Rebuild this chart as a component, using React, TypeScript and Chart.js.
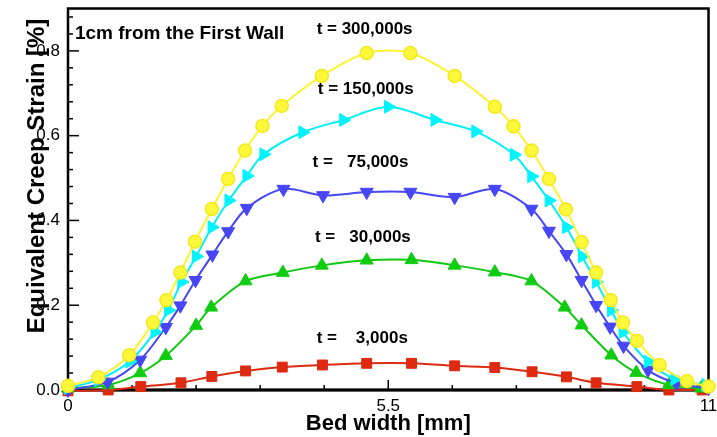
import { useEffect, useRef } from 'react';
import { Chart, registerables } from 'chart.js';

Chart.register(...registerables);

// ---- data ----
const x300k = [0, 0.52, 1.05, 1.46, 1.69, 1.93, 2.18, 2.47, 2.75, 3.04, 3.34, 3.67, 4.36, 5.13, 5.88, 6.64, 7.33, 7.65, 7.96, 8.26, 8.55, 8.82, 9.07, 9.32, 9.53, 9.77, 10.16, 10.63, 11];
const y300k = [0.01, 0.03, 0.082, 0.159, 0.212, 0.277, 0.35, 0.427, 0.498, 0.565, 0.623, 0.67, 0.741, 0.795, 0.795, 0.741, 0.668, 0.622, 0.565, 0.498, 0.426, 0.349, 0.277, 0.212, 0.159, 0.116, 0.059, 0.021, 0.008];

const x150k = [0, 0.52, 1.06, 1.49, 1.72, 1.95, 2.2, 2.47, 2.76, 3.07, 3.36, 4.03, 4.73, 5.5, 6.3, 7.0, 7.66, 7.96, 8.26, 8.56, 8.83, 9.07, 9.33, 9.53, 9.96, 10.42, 10.95];
const y150k = [0.005, 0.024, 0.067, 0.137, 0.188, 0.255, 0.315, 0.384, 0.447, 0.505, 0.556, 0.608, 0.637, 0.668, 0.637, 0.61, 0.555, 0.504, 0.447, 0.384, 0.315, 0.255, 0.188, 0.137, 0.067, 0.026, 0.012];

const x75k = [0, 0.68, 1.24, 1.68, 1.93, 2.19, 2.48, 2.75, 3.07, 3.7, 4.38, 5.13, 5.88, 6.64, 7.33, 7.96, 8.26, 8.56, 8.82, 9.07, 9.31, 9.54, 9.96, 10.45, 11];
const y75k = [0.0, 0.019, 0.071, 0.148, 0.199, 0.259, 0.319, 0.374, 0.429, 0.474, 0.459, 0.467, 0.467, 0.455, 0.474, 0.427, 0.375, 0.32, 0.259, 0.2, 0.149, 0.104, 0.047, 0.016, 0.004];

const x30k = [0, 0.69, 1.24, 1.68, 2.2, 2.46, 3.05, 3.69, 4.36, 5.13, 5.9, 6.64, 7.33, 7.96, 8.53, 8.82, 9.33, 9.76, 10.32, 10.87];
const y30k = [0.004, 0.012, 0.04, 0.081, 0.152, 0.195, 0.257, 0.277, 0.294, 0.306, 0.307, 0.294, 0.278, 0.257, 0.195, 0.153, 0.082, 0.041, 0.012, 0.004];

const x3k = [0, 0.69, 1.25, 1.94, 2.47, 3.05, 3.68, 4.37, 5.13, 5.9, 6.64, 7.33, 7.97, 8.56, 9.07, 9.77, 10.32, 10.89];
const y3k = [-0.002, 0.0, 0.008, 0.017, 0.032, 0.045, 0.054, 0.059, 0.063, 0.063, 0.057, 0.053, 0.043, 0.031, 0.017, 0.008, 0.0, 0.0];

const seriesLabels = ['t = 300,000s', 't = 150,000s', 't =   75,000s', 't =   30,000s', 't =    3,000s'];
const noteText = '1cm from the First Wall';
const xTitle = 'Bed width [mm]';
const yTitle = 'Equivalent Creep Strain [%]';

const xMajorTicks = [0, 5.5, 11];
const xTickLabels = ['0', '5.5', '11'];
const yMajorTicks = [0, 0.2, 0.4, 0.6, 0.8];
const yTickLabels = ['0.0', '0.2', '0.4', '0.6', '0.8'];
const xMinorStep = 1.1;
const yMinorStep = 0.04;

// annotation anchors in data units (left edge, baseline)
const labelAnchors = [
  { x: 4.27, y: 0.84 },
  { x: 4.29, y: 0.699 },
  { x: 4.2, y: 0.525 },
  { x: 4.24, y: 0.348 },
  { x: 4.27, y: 0.111 },
];
const noteAnchor = { x: 0.12, y: 0.828 };

const FONT = '"Liberation Sans", Arial, Helvetica, sans-serif';

function isMajor(v: number, majors: number[]) {
  return majors.findIndex((m) => Math.abs(m - v) < 1e-6);
}

function makeTicks(max: number, step: number) {
  const out: number[] = [];
  for (let k = 0; k * step <= max + 1e-9; k++) out.push(+(k * step).toFixed(6));
  return out;
}

const framePlugin = {
  id: 'frame',
  beforeDatasetsDraw(chart: any) {
    const { ctx, chartArea: a, scales } = chart;
    ctx.save();
    ctx.strokeStyle = '#000';
    ctx.lineWidth = 1.5;
    const xs = scales.x;
    const ys = scales.y;
    makeTicks(11, xMinorStep).forEach((v) => {
      const px = xs.getPixelForValue(v);
      const len = isMajor(v, xMajorTicks) >= 0 ? 10 : 5;
      ctx.beginPath();
      ctx.moveTo(px, a.bottom);
      ctx.lineTo(px, a.bottom - len);
      ctx.stroke();
    });
    makeTicks(0.88, yMinorStep).forEach((v) => {
      const py = ys.getPixelForValue(v);
      const len = isMajor(v, yMajorTicks) >= 0 ? 11 : 5;
      ctx.beginPath();
      ctx.moveTo(a.left, py);
      ctx.lineTo(a.left + len, py);
      ctx.stroke();
    });
    ctx.lineWidth = 2.5;
    ctx.strokeRect(a.left, a.top, a.right - a.left, a.bottom - a.top);
    ctx.lineWidth = 3;
    ctx.beginPath();
    ctx.moveTo(a.left - 1, a.bottom);
    ctx.lineTo(a.right + 1, a.bottom);
    ctx.stroke();
    ctx.restore();
  },
  afterDatasetsDraw(chart: any) {
    const { ctx, chartArea: a, scales } = chart;
    const xs = scales.x;
    const ys = scales.y;
    ctx.save();
    ctx.fillStyle = '#000';
    ctx.textAlign = 'left';
    ctx.textBaseline = 'alphabetic';
    ctx.font = `bold 19px ${FONT}`;
    ctx.fillText(noteText, xs.getPixelForValue(noteAnchor.x), ys.getPixelForValue(noteAnchor.y));
    ctx.font = `bold 17px ${FONT}`;
    seriesLabels.forEach((t, i) => {
      ctx.fillText(t, xs.getPixelForValue(labelAnchors[i].x), ys.getPixelForValue(labelAnchors[i].y));
    });
    ctx.textAlign = 'center';
    ctx.font = `bold 22px ${FONT}`;
    ctx.fillText(xTitle, (a.left + a.right) / 2, 430);
    ctx.translate(44, 176);
    ctx.rotate(-Math.PI / 2);
    ctx.font = `bold 24px ${FONT}`;
    ctx.fillText(yTitle, 0, 0);
    ctx.restore();
  },
};

export default function App() {
  const ref = useRef<HTMLCanvasElement | null>(null);
  useEffect(() => {
    document.body.style.margin = '0';
    if (!ref.current) return;
    const mk = (xv: number[], yv: number[]) => xv.map((x, i) => ({ x, y: yv[i] }));
    const chart = new Chart(ref.current, {
      type: 'line',
      data: {
        datasets: [
          {
            label: seriesLabels[0],
            data: mk(x300k, y300k),
            borderColor: '#FFF22E',
            backgroundColor: '#FFF73A',
            pointBackgroundColor: '#FFF73A',
            pointBorderColor: '#F2E81E',
            pointBorderWidth: 1.5,
            pointStyle: 'circle',
            pointRadius: 6.5,
            order: 1,
          },
          {
            label: seriesLabels[1],
            data: mk(x150k, y150k),
            borderColor: '#00F0F8',
            backgroundColor: '#00F4FF',
            pointBackgroundColor: '#00F4FF',
            pointBorderColor: '#00F4FF',
            pointStyle: 'triangle',
            pointRotation: 90,
            pointRadius: 7.5,
            order: 2,
          },
          {
            label: seriesLabels[2],
            data: mk(x75k, y75k),
            borderColor: '#4646F2',
            backgroundColor: '#4646F8',
            pointBackgroundColor: '#4646F8',
            pointBorderColor: '#4646F8',
            pointStyle: 'triangle',
            pointRotation: 180,
            pointRadius: 7.5,
            order: 3,
          },
          {
            label: seriesLabels[3],
            data: mk(x30k, y30k),
            borderColor: '#10C810',
            backgroundColor: '#10CC10',
            pointBackgroundColor: '#10CC10',
            pointBorderColor: '#10CC10',
            pointStyle: 'triangle',
            pointRotation: 0,
            pointRadius: 7.5,
            order: 4,
          },
          {
            label: seriesLabels[4],
            data: mk(x3k, y3k),
            borderColor: '#DD2A10',
            backgroundColor: '#DD2A10',
            pointBackgroundColor: '#DD2A10',
            pointBorderColor: '#DD2A10',
            pointStyle: 'rect',
            pointRadius: 7,
            order: 5,
          },
        ],
      },
      options: {
        animation: false,
        responsive: false,
        events: [],
        clip: false as any,
        layout: { padding: { left: 0, right: 8, top: 8, bottom: 0 } },
        elements: { line: { borderWidth: 2, tension: 0.3 } },
        plugins: { legend: { display: false }, tooltip: { enabled: false } },
        scales: {
          x: {
            type: 'linear',
            min: 0,
            max: 11,
            grid: { display: false, drawTicks: false },
            border: { display: false },
            afterFit: (s: any) => { s.height = 47; s.paddingLeft = 0; s.paddingRight = 0; },
            afterBuildTicks: (s: any) => { s.ticks = makeTicks(11, xMinorStep).map((v) => ({ value: v })); },
            ticks: {
              autoSkip: false,
              maxRotation: 0,
              padding: 6,
              color: '#000',
              font: { family: FONT, size: 17 },
              callback: (v: any) => {
                const i = isMajor(Number(v), xMajorTicks);
                return i >= 0 ? xTickLabels[i] : '';
              },
            },
          },
          y: {
            type: 'linear',
            min: 0,
            max: 0.9,
            grid: { display: false, drawTicks: false },
            border: { display: false },
            afterFit: (s: any) => { s.width = 68; s.paddingTop = 0; s.paddingBottom = 0; },
            afterBuildTicks: (s: any) => { s.ticks = makeTicks(0.88, yMinorStep).map((v) => ({ value: v })); },
            ticks: {
              autoSkip: false,
              padding: 8,
              color: '#000',
              font: { family: FONT, size: 17 },
              callback: (v: any) => {
                const i = isMajor(Number(v), yMajorTicks);
                return i >= 0 ? yTickLabels[i] : '';
              },
            },
          },
        },
      },
      plugins: [framePlugin],
    });
    return () => chart.destroy();
  }, []);
  return (
    <div style={{ width: 717, height: 437, background: '#fff' }}>
      <canvas ref={ref} width={717} height={437} />
    </div>
  );
}
